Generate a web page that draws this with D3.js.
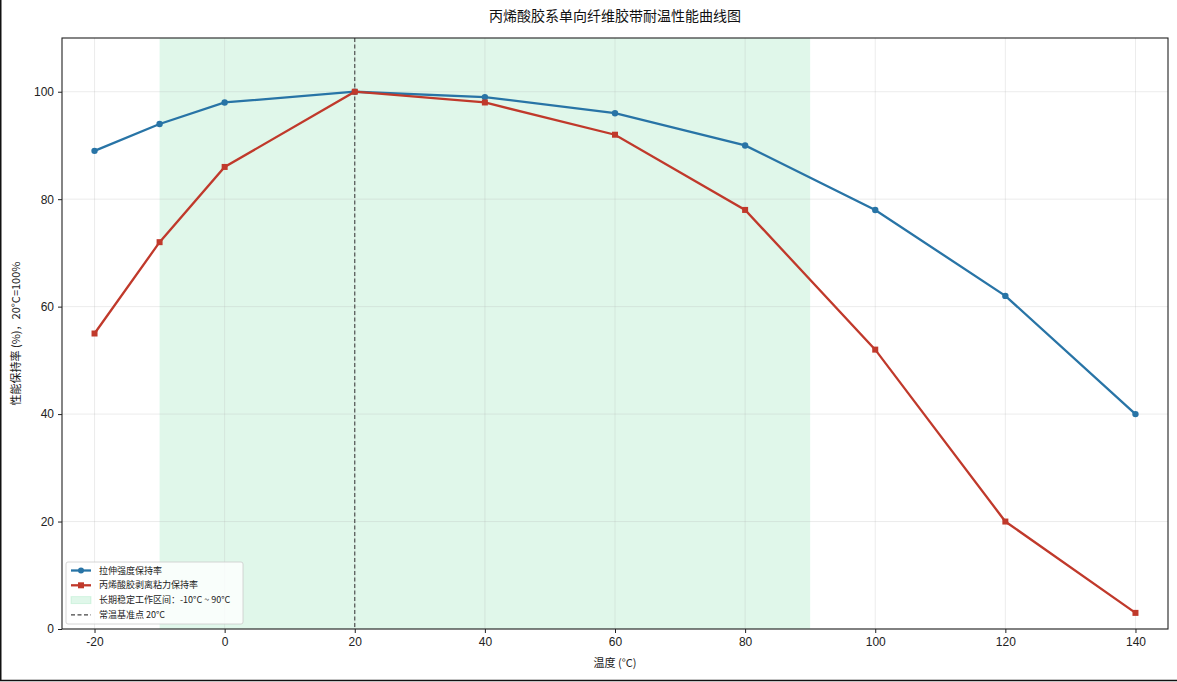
<!DOCTYPE html>
<html>
<head>
<meta charset="utf-8">
<script src="https://cdn.jsdelivr.net/npm/d3@7"></script>
<style>
  body { margin: 0; background: #fff; }
  svg { font-family: "Noto Sans CJK SC", "Noto Sans", sans-serif; }
  .tick text { font-size: 12px; fill: #222; }
</style>
</head>
<body>
<div id="chart"></div>
<script>
// data
const temps = [-20, -10, 0, 20, 40, 60, 80, 100, 120, 140]
const tensile = [89, 94, 98, 100, 99, 96, 90, 78, 62, 40]
const peel = [55, 72, 86, 100, 98, 92, 78, 52, 20, 3]
const xTicks = [-20, 0, 20, 40, 60, 80, 100, 120, 140]
const yTicks = [0, 20, 40, 60, 80, 100]
const workRange = [-10, 90]
const refTemp = 20

const width = 1177
const height = 682
const margin = { top: 38, right: 9, bottom: 53, left: 62 }

const blue = "#2874a6"
const red = "#c0392b"

const svg = d3.select("#chart").append("svg")
  .attr("width", width)
  .attr("height", height)

// outer frame (left + bottom only, as in the screenshot)
svg.append("line").attr("x1", 0.75).attr("x2", 0.75).attr("y1", 0).attr("y2", 680.5)
  .attr("stroke", "#111").attr("stroke-width", 1.5)
svg.append("line").attr("x1", 0).attr("x2", width).attr("y1", 680.5).attr("y2", 680.5)
  .attr("stroke", "#111").attr("stroke-width", 1.5)

const x = d3.scaleLinear()
  .domain([-25, 145])
  .range([margin.left, width - margin.right])

const y = d3.scaleLinear()
  .domain([0, 110])
  .range([height - margin.bottom, margin.top])

// shaded working range
svg.append("rect")
  .attr("x", x(workRange[0]))
  .attr("y", margin.top)
  .attr("width", x(workRange[1]) - x(workRange[0]))
  .attr("height", y(0) - margin.top)
  .attr("fill", "#2ecc71")
  .attr("fill-opacity", 0.15)

// grid
svg.append("g")
  .selectAll("line")
  .data(xTicks)
  .join("line")
    .attr("x1", d => x(d)).attr("x2", d => x(d))
    .attr("y1", margin.top).attr("y2", y(0))
    .attr("stroke", "#b0b0b0").attr("stroke-opacity", 0.3).attr("stroke-width", 0.8)

svg.append("g")
  .selectAll("line")
  .data(yTicks)
  .join("line")
    .attr("x1", margin.left).attr("x2", width - margin.right)
    .attr("y1", d => y(d)).attr("y2", d => y(d))
    .attr("stroke", "#b0b0b0").attr("stroke-opacity", 0.3).attr("stroke-width", 0.8)

// reference line at 20°C
svg.append("line")
  .attr("x1", x(refTemp)).attr("x2", x(refTemp))
  .attr("y1", margin.top).attr("y2", y(0))
  .attr("stroke", "#444").attr("stroke-width", 1.1)
  .attr("stroke-dasharray", "4,2.5")

// lines
const line = d3.line()
  .x(d => x(d[0]))
  .y(d => y(d[1]))

const tensileData = temps.map((t, i) => [t, tensile[i]])
const peelData = temps.map((t, i) => [t, peel[i]])

svg.append("path")
  .datum(tensileData)
  .attr("d", line)
  .attr("fill", "none")
  .attr("stroke", blue)
  .attr("stroke-width", 2.3)

svg.append("g")
  .selectAll("circle")
  .data(tensileData)
  .join("circle")
    .attr("cx", d => x(d[0]))
    .attr("cy", d => y(d[1]))
    .attr("r", 3.2)
    .attr("fill", blue)

svg.append("path")
  .datum(peelData)
  .attr("d", line)
  .attr("fill", "none")
  .attr("stroke", red)
  .attr("stroke-width", 2.3)

const sq = 6
svg.append("g")
  .selectAll("rect")
  .data(peelData)
  .join("rect")
    .attr("x", d => x(d[0]) - sq / 2)
    .attr("y", d => y(d[1]) - sq / 2)
    .attr("width", sq)
    .attr("height", sq)
    .attr("fill", red)

// axes (plain hyphen minus like the reference)
const xAxis = svg.append("g")
  .attr("transform", `translate(0,${y(0)})`)
  .call(d3.axisBottom(x).tickValues(xTicks).tickFormat(d => String(d)).tickSize(4).tickPadding(4))
xAxis.select(".domain").remove()

const yAxis = svg.append("g")
  .attr("transform", `translate(${margin.left},0)`)
  .call(d3.axisLeft(y).tickValues(yTicks).tickFormat(d => String(d)).tickSize(4).tickPadding(4))
yAxis.select(".domain").remove()

svg.selectAll(".tick line").attr("stroke", "#222")

// plot frame
svg.append("rect")
  .attr("x", margin.left)
  .attr("y", margin.top)
  .attr("width", width - margin.right - margin.left)
  .attr("height", y(0) - margin.top)
  .attr("fill", "none")
  .attr("stroke", "#222")
  .attr("stroke-width", 1.1)

// title and axis labels
svg.append("text")
  .attr("x", (margin.left + width - margin.right) / 2)
  .attr("y", 21)
  .attr("text-anchor", "middle")
  .attr("font-size", 14)
  .attr("fill", "#111")
  .text("丙烯酸胶系单向纤维胶带耐温性能曲线图")

svg.append("text")
  .attr("x", (margin.left + width - margin.right) / 2)
  .attr("y", 667)
  .attr("text-anchor", "middle")
  .attr("font-size", 11)
  .attr("fill", "#222")
  .text("温度 (°C)")

svg.append("text")
  .attr("transform", `translate(20,${(margin.top + y(0)) / 2}) rotate(-90)`)
  .attr("text-anchor", "middle")
  .attr("font-size", 11)
  .attr("fill", "#222")
  .text("性能保持率 (%)，20°C=100%")

// legend
const legendItems = [
  { label: "拉伸强度保持率", type: "circle", color: blue },
  { label: "丙烯酸胶剥离粘力保持率", type: "square", color: red },
  { label: "长期稳定工作区间：-10°C ~ 90°C", type: "patch", color: "#2ecc71" },
  { label: "常温基准点 20°C", type: "dash", color: "#444" }
]

const lg = svg.append("g").attr("transform", "translate(66,562)")
lg.append("rect")
  .attr("width", 177).attr("height", 62)
  .attr("rx", 2)
  .attr("fill", "#fff").attr("fill-opacity", 0.8)
  .attr("stroke", "#ccc").attr("stroke-width", 0.8)

const rows = lg.selectAll("g.item")
  .data(legendItems)
  .join("g")
    .attr("class", "item")
    .attr("transform", (d, i) => `translate(5,${8.5 + i * 14.8})`)

rows.each(function (d) {
  const g = d3.select(this)
  if (d.type === "patch") {
    g.append("rect").attr("x", 0).attr("y", -3.5).attr("width", 20).attr("height", 7)
      .attr("fill", d.color).attr("fill-opacity", 0.15)
      .attr("stroke", d.color).attr("stroke-opacity", 0.15)
  } else if (d.type === "dash") {
    g.append("line").attr("x1", 0).attr("x2", 20).attr("y1", 0).attr("y2", 0)
      .attr("stroke", d.color).attr("stroke-width", 1.1).attr("stroke-dasharray", "4,2.5")
  } else {
    g.append("line").attr("x1", 0).attr("x2", 20).attr("y1", 0).attr("y2", 0)
      .attr("stroke", d.color).attr("stroke-width", 2.3)
    if (d.type === "circle") {
      g.append("circle").attr("cx", 10).attr("cy", 0).attr("r", 3).attr("fill", d.color)
    } else {
      g.append("rect").attr("x", 7).attr("y", -3).attr("width", 6).attr("height", 6).attr("fill", d.color)
    }
  }
  g.append("text")
    .attr("x", 28).attr("y", 0)
    .attr("dy", "0.35em")
    .attr("font-size", 9)
    .attr("fill", "#222")
    .text(d.label)
})
</script>
</body>
</html>
